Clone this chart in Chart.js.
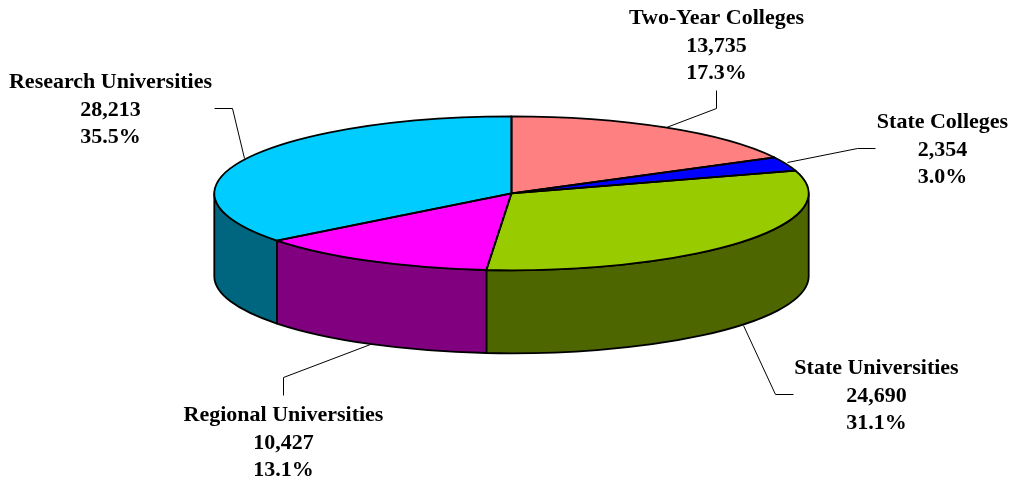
<!DOCTYPE html>
<html>
<head>
<meta charset="utf-8">
<style>html,body{margin:0;padding:0;background:#fff}canvas{display:block}</style>
<script src="https://cdn.jsdelivr.net/npm/chart.js@4"></script>
</head>
<body>
<canvas id="c" width="1013" height="481"></canvas>
<script>
const categories = ['Two-Year Colleges','State Colleges','State Universities','Regional Universities','Research Universities'];
const values = [13735,2354,24690,10427,28213];
const valueLabels = ['13,735','2,354','24,690','10,427','28,213'];
const percentLabels = ['17.3%','3.0%','31.1%','13.1%','35.5%'];
const topColors = ['#FF8080','#0000FF','#99CC00','#FF00FF','#00CCFF'];
const sideColors = ['#804040','#000080','#4D6600','#800080','#006680'];

// layout of the tilted pie and its callouts
const CX = 511.5, CY = 193.3, RX = 297.2, RY = 77, DEPTH = 83;
const labelPos = [[716.5,24],[942.5,128],[876.5,374],[283.5,421],[110.5,88]];
const LINE_H = 27.5;
const leaders = [
  [[716,90],[716,108],[666,127]],
  [[875,148],[857,148],[787,162]],
  [[793,394],[775,394],[743,325]],
  [[283,395],[283,377],[370,344]],
  [[214,108],[232,108],[244,158]]
];

const pie3d = {
  id:'pie3d',
  beforeDatasetsDraw(chart){
    const ctx = chart.ctx, arcs = chart.getDatasetMeta(0).data;
    ctx.save();
    ctx.lineWidth = 1.8; ctx.strokeStyle = '#000'; ctx.lineJoin = 'round';
    // callout lines sit under the pie edge
    ctx.save(); ctx.lineWidth = 1; 
    leaders.forEach(l=>{ctx.beginPath();l.forEach((p,i)=>i?ctx.lineTo(p[0]+.5,p[1]+.5):ctx.moveTo(p[0]+.5,p[1]+.5));ctx.stroke();});
    ctx.restore();
    // side wall of each slice, front half only
    arcs.forEach((arc,i)=>{
      const p = arc.getProps(['startAngle','endAngle']);
      const a = Math.max(p.startAngle,0), b = Math.min(p.endAngle,Math.PI);
      if (b<=a) return;
      ctx.beginPath();
      ctx.ellipse(CX,CY,RX,RY,0,a,b);
      ctx.lineTo(CX+RX*Math.cos(b),CY+DEPTH+RY*Math.sin(b));
      ctx.ellipse(CX,CY+DEPTH,RX,RY,0,b,a,true);
      ctx.closePath();
      ctx.fillStyle = sideColors[i];
      ctx.fill(); ctx.stroke();
    });
    ctx.restore();
    // squash the library's round pie to the tilted ellipse
    const first = arcs[0].getProps(['x','y','outerRadius']);
    ctx.save();
    ctx.translate(CX,CY);
    ctx.scale(RX/first.outerRadius,RY/first.outerRadius);
    ctx.translate(-first.x,-first.y);
  },
  afterDatasetsDraw(chart){
    const ctx = chart.ctx, arcs = chart.getDatasetMeta(0).data;
    ctx.restore();
    ctx.save();
    ctx.lineWidth = 1.8; ctx.strokeStyle = '#000'; ctx.lineJoin = 'round';
    arcs.forEach(arc=>{
      const p = arc.getProps(['startAngle','endAngle']);
      ctx.beginPath();
      ctx.moveTo(CX,CY);
      ctx.ellipse(CX,CY,RX,RY,0,p.startAngle,p.endAngle);
      ctx.closePath();
      ctx.stroke();
    });
    ctx.fillStyle = '#000';
    ctx.font = 'bold 22px "Liberation Serif"';
    ctx.textAlign = 'center'; ctx.textBaseline = 'alphabetic';
    categories.forEach((name,i)=>{
      const [x,y] = labelPos[i];
      ctx.fillText(name,x,y);
      ctx.fillText(valueLabels[i],x,y+LINE_H);
      ctx.fillText(percentLabels[i],x,y+2*LINE_H);
    });
    ctx.restore();
  }
};

new Chart(document.getElementById('c'),{
  type:'pie',
  data:{labels:categories,datasets:[{data:values,backgroundColor:topColors,borderWidth:0}]},
  options:{
    responsive:false,animation:false,
    layout:{padding:0},
    plugins:{legend:{display:false},tooltip:{enabled:false}}
  },
  plugins:[pie3d]
});
</script>
</body>
</html>
